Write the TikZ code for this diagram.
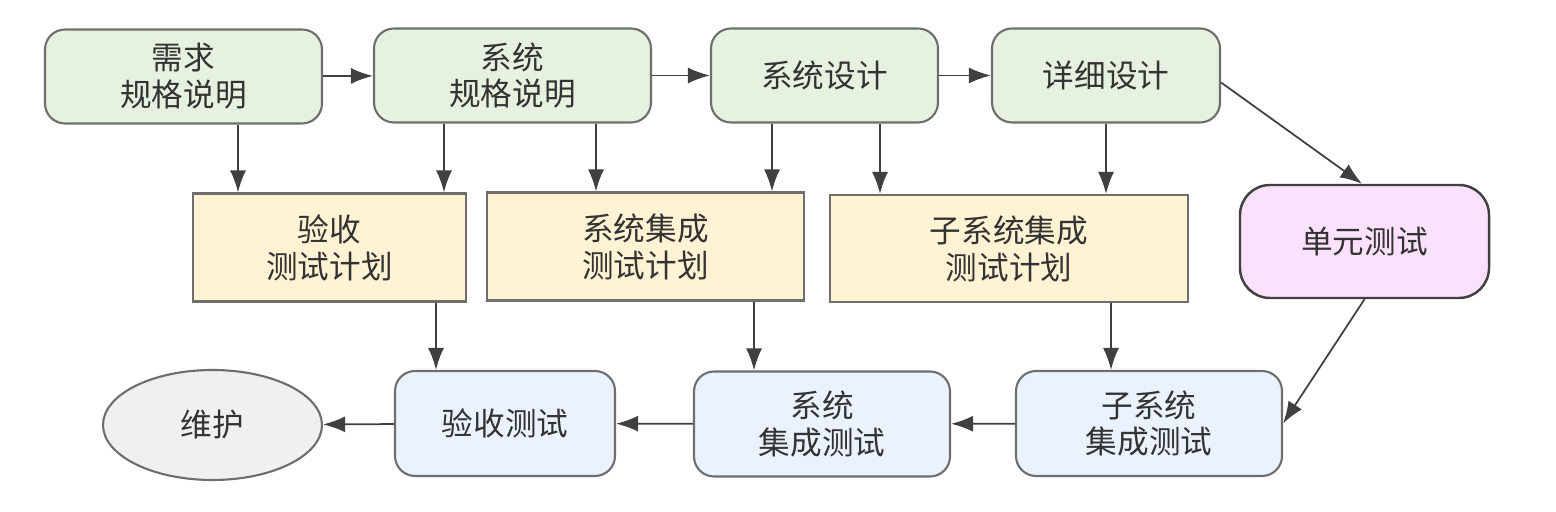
\documentclass[tikz,border=0pt]{standalone}
\usepackage{fontspec}
\setmainfont{Noto Sans CJK SC}
\usetikzlibrary{shapes}
\usetikzlibrary{arrows.meta}

\definecolor{specgreen}{HTML}{E6F2DF}
\definecolor{plancream}{HTML}{FFF3D4}
\definecolor{unitpink}{HTML}{FBE1FB}
\definecolor{testblue}{HTML}{EAF3FD}
\definecolor{maingray}{HTML}{F0F0F0}
\definecolor{edgegray}{HTML}{6E6E6E}
\definecolor{txtgray}{HTML}{333333}

\begin{document}
\begin{tikzpicture}[x=1cm,y=1cm,
    every node/.style={text=txtgray, font=\fontsize{9}{10.5}\selectfont, align=center},
    spec/.style={draw=edgegray, line width=0.6pt, fill=specgreen, rounded corners=0.2cm, minimum height=0.94cm},
    plan/.style={draw=edgegray, line width=0.6pt, fill=plancream, minimum height=1.08cm},
    unitbox/.style={draw=black!75, line width=0.7pt, fill=unitpink, rounded corners=0.3cm, minimum width=2.49cm, minimum height=1.13cm},
    testbox/.style={draw=edgegray, line width=0.6pt, fill=testblue, rounded corners=0.2cm, minimum height=1.05cm},
    arr/.style={draw=black!75, line width=0.5pt, -{Latex[length=2.2mm,width=1.6mm]}}]

    \useasboundingbox (0,0) rectangle (15.56,-5.12);

    % top row
    \node(req)[spec, minimum width=2.77cm] at (1.835,-0.765){需求\\规格说明};
    \node(sysspec)[spec, minimum width=2.77cm] at (5.125,-0.755){系统\\规格说明};
    \node(sysdes)[spec, minimum width=2.27cm] at (8.245,-0.755){系统设计};
    \node(detail)[spec, minimum width=2.28cm] at (11.06,-0.755){详细设计};

    % test plans
    \node(accplan)[plan, minimum width=2.73cm] at (3.295,-2.475){验收\\测试计划};
    \node(sysplan)[plan, minimum width=3.17cm] at (6.455,-2.465){系统集成\\测试计划};
    \node(subplan)[plan, minimum width=3.58cm, minimum height=1.07cm] at (10.09,-2.485){子系统集成\\测试计划};
    \node(unit)[unitbox] at (13.645,-2.415){单元测试};

    % bottom row
    \node(maint)[draw=edgegray, line width=0.6pt, fill=maingray, ellipse, minimum width=2.19cm, minimum height=1.1cm, inner sep=0pt] at (2.125,-4.25){维护};
    \node(acctest)[testbox, minimum width=2.2cm] at (5.05,-4.235){验收测试};
    \node(systest)[testbox, minimum width=2.56cm] at (8.22,-4.24){系统\\集成测试};
    \node(subtest)[testbox, minimum width=2.66cm] at (11.49,-4.235){子系统\\集成测试};

    \draw[arr] (req) -- (sysspec);
    \draw[arr] (sysspec) -- (sysdes);
    \draw[arr] (sysdes) -- (detail);
    \draw[arr] ([yshift=-0.07cm]detail.east) -- ([xshift=-0.025cm]unit.north);

    \draw[arr] ([xshift=5.45mm]req.south) -- ([xshift=5.45mm]req.south |- accplan.north);
    \draw[arr] ([xshift=-6.85mm]sysspec.south) -- ([xshift=-6.85mm]sysspec.south |- accplan.north);
    \draw[arr] ([xshift=8.35mm]sysspec.south) -- ([xshift=8.35mm]sysspec.south |- sysplan.north);
    \draw[arr] ([xshift=-5.25mm]sysdes.south) -- ([xshift=-5.25mm]sysdes.south |- sysplan.north);
    \draw[arr] ([xshift=5.55mm]sysdes.south) -- ([xshift=5.55mm]sysdes.south |- subplan.north);
    \draw[arr] (detail.south) -- (detail.south |- subplan.north);

    \draw[arr] ([xshift=10.65mm]accplan.south) -- ([xshift=10.65mm]accplan.south |- acctest.north);
    \draw[arr] ([xshift=10.85mm]sysplan.south) -- ([xshift=10.85mm]sysplan.south |- systest.north);
    \draw[arr] ([xshift=10.2mm]subplan.south) -- ([xshift=10.2mm]subplan.south |- subtest.north);
    \draw[arr] (unit.south) -- (subtest.east);

    \draw[arr] (subtest) -- (systest);
    \draw[arr] (systest) -- (acctest);
    \draw[arr] (acctest) -- (maint);

\end{tikzpicture}
\end{document}
